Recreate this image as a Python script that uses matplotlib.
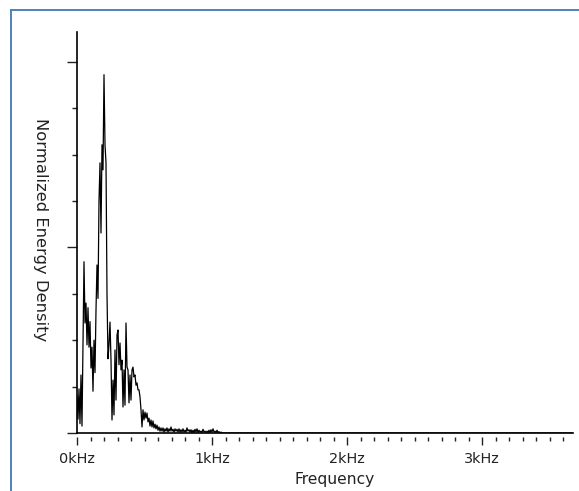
import numpy as np
import matplotlib
matplotlib.use('Agg')
from matplotlib import pyplot as plt
from matplotlib.lines import Line2D
from matplotlib.ticker import MultipleLocator, FixedLocator

# spectrum bin spacing (kHz) and axis range
bin_khz = 1 / 135
f_max = 3.674

# normalized energy density, 0 - ~0.6 kHz
energy_main = [
    0.080, 0.030, 0.095, 0.020, 0.125, 0.015, 0.200, 0.369, 0.237, 0.280,
    0.190, 0.270, 0.185, 0.240, 0.140, 0.185, 0.090, 0.200, 0.130, 0.265,
    0.362, 0.290, 0.500, 0.582, 0.431, 0.621, 0.567, 0.772, 0.621, 0.582,
    0.300, 0.160, 0.190, 0.239, 0.157, 0.028, 0.114, 0.039, 0.179, 0.071,
    0.211, 0.222, 0.147, 0.194, 0.136, 0.157, 0.056, 0.136, 0.060, 0.237,
    0.142, 0.136, 0.065, 0.125, 0.071, 0.136, 0.142, 0.121, 0.125, 0.103,
    0.108, 0.093, 0.093, 0.078, 0.050, 0.013, 0.050, 0.028, 0.045, 0.032,
    0.043, 0.024, 0.032, 0.015, 0.028, 0.013, 0.026, 0.011, 0.019, 0.009,
    0.017,
]

# low-level tail, ~0.6 - 1.08 kHz
energy_tail = [
    0.006, 0.013, 0.004, 0.011, 0.004, 0.011, 0.002, 0.009, 0.004, 0.011,
    0.002, 0.009, 0.004, 0.013, 0.004, 0.008, 0.002, 0.009, 0.004, 0.008,
    0.002, 0.009, 0.002, 0.007, 0.002, 0.009, 0.002, 0.006, 0.002, 0.011,
    0.004, 0.007, 0.002, 0.007, 0.001, 0.006, 0.001, 0.008, 0.002, 0.009,
    0.001, 0.006, 0.002, 0.004, 0.001, 0.008, 0.002, 0.004, 0.001, 0.004,
    0.001, 0.006, 0.001, 0.007, 0.002, 0.009, 0.002, 0.004, 0.001, 0.006,
    0.001, 0.003, 0.000, 0.002, 0.000,
]

xticks = [0, 1, 2, 3]
xtick_labels = ['0kHz', '1kHz', '2kHz', '3kHz']


def build_spectrum():
    vals = np.array(energy_main + energy_tail)
    n_total = int(f_max / bin_khz) + 1
    energy = np.concatenate([vals, np.zeros(n_total - len(vals))])
    freq = np.arange(n_total) * bin_khz
    return freq, energy


def make_plot(freq, energy):
    W, H = 579, 491
    fig = plt.figure(figsize=(W / 100, H / 100), dpi=100)
    fig.patch.set_facecolor('white')

    # blue window frame (top and left edges visible)
    frame = '#4f81bd'
    fig.add_artist(Line2D([11 / W, 1], [1 - 10 / H, 1 - 10 / H], transform=fig.transFigure, color=frame, lw=1.4))
    fig.add_artist(Line2D([11 / W, 11 / W], [0, 1 - 10 / H], transform=fig.transFigure, color=frame, lw=1.4))

    ax = fig.add_axes([77 / W, 58 / H, 496 / W, 401 / H])
    ax.plot(freq, energy, color='black', lw=0.9)
    ax.axhline(0, color='black', lw=1.2, clip_on=False)

    ax.set_xlim(0, f_max)
    ax.set_ylim(0, 0.864)

    for s in ['top', 'right']:
        ax.spines[s].set_visible(False)
    ax.spines['left'].set_linewidth(1.2)
    ax.spines['bottom'].set_position(('outward', 3))
    ax.spines['bottom'].set_visible(False)

    ax.xaxis.set_major_locator(FixedLocator(xticks))
    ax.set_xticklabels(xtick_labels)
    ax.xaxis.set_minor_locator(MultipleLocator(0.1))
    ax.yaxis.set_major_locator(MultipleLocator(0.4))
    ax.yaxis.set_minor_locator(MultipleLocator(0.1))
    ax.set_yticklabels([])

    ax.tick_params(axis='x', which='major', length=6, width=1.0, pad=5,
                   labelsize=10.4, colors='#222222')
    ax.tick_params(axis='x', which='minor', length=3, width=1.0, colors='#222222')
    ax.tick_params(axis='y', which='major', length=7.2, width=1.0, colors='#222222')
    ax.tick_params(axis='y', which='minor', length=3.6, width=1.0, colors='#222222')

    ax.set_xlabel('Frequency', fontsize=11.2, color='#222222')
    ax.xaxis.set_label_coords(0.52, -0.117)
    ax.xaxis.label.set_va('center')
    ax.set_ylabel('Normalized Energy Density', fontsize=11.8, rotation=-90, color='#222222')
    ax.yaxis.set_label_coords(-0.0726, 0.507)
    ax.yaxis.label.set_va('center')
    ax.yaxis.label.set_ha('center')

    fig.savefig('out.png', dpi=100)


def main():
    freq, energy = build_spectrum()
    make_plot(freq, energy)


if __name__ == '__main__':
    main()
